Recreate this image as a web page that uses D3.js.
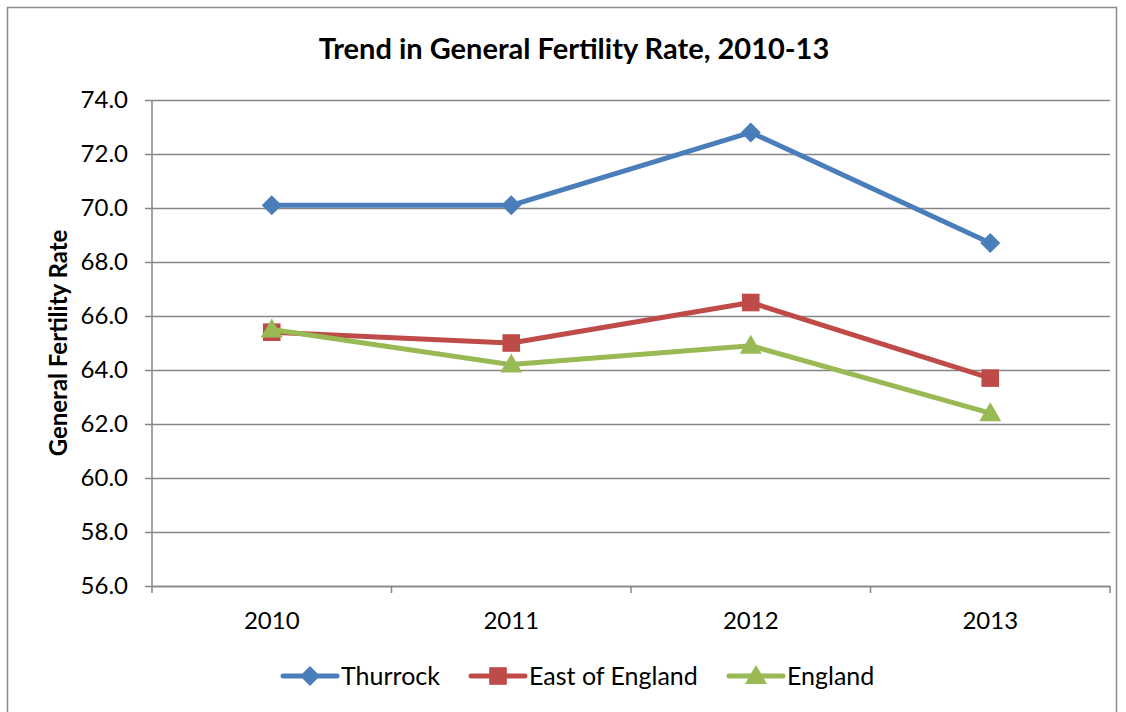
<!DOCTYPE html>
<html><head><meta charset="utf-8">
<script src="https://cdn.jsdelivr.net/npm/d3@7"></script>
<style>body{margin:0;background:#fff;}svg{display:block;font-family:Lato,"Open Sans",sans-serif;}</style>
</head><body>
<svg id="c" width="1126" height="712"></svg>
<script>
const categories = ["2010","2011","2012","2013"];
const seriesNames = ["Thurrock","East of England","England"];
const thurrock = [70.1, 70.1, 72.8, 68.7];
const eastOfEngland = [65.4, 65.0, 66.5, 63.7];
const england = [65.5, 64.2, 64.9, 62.4];
const yTicks = [56,58,60,62,64,66,68,70,72,74];
const colors = ["#4a7ebb","#be4b48","#98b954"];

const svg = d3.select("#c");
svg.append("rect").attr("x",7.5).attr("y",7.5).attr("width",1109).attr("height",720)
  .attr("fill","#fff").attr("stroke","#8c8c8c").attr("stroke-width",1.5);

const L=152, R=1110, T=100, B=586;
const x = d3.scaleBand().domain(categories).range([L,R]);
const y = d3.scaleLinear().domain([56,74]).range([B,T]);

svg.append("text").attr("x",574).attr("y",59).attr("text-anchor","middle")
  .attr("font-weight","bold").attr("font-size",29).text("Trend in General Fertility Rate, 2010-13");

const gy = svg.append("g").attr("transform",`translate(${L},0)`)
  .call(d3.axisLeft(y).tickValues(yTicks).tickFormat(d3.format(".1f")).tickSize(-(R-L)).tickPadding(24));
gy.select(".domain").remove();
gy.selectAll("line").attr("stroke","#868686").attr("stroke-width",1.5);
gy.selectAll(".tick line").attr("x1",-7);
gy.selectAll("text").attr("font-size",24).attr("fill","#000").attr("font-family","Lato,'Open Sans',sans-serif");
svg.append("line").attr("x1",L).attr("x2",L).attr("y1",T).attr("y2",B).attr("stroke","#868686").attr("stroke-width",1.5);

const gx = svg.append("g").attr("transform",`translate(0,${B})`)
  .call(d3.axisBottom(x).tickSize(0).tickPadding(26));
gx.select(".domain").attr("stroke","#868686").attr("stroke-width",1.5);
gx.selectAll("text").attr("font-size",24).attr("fill","#000").attr("font-family","Lato,'Open Sans',sans-serif");
const edges = categories.map(c=>x(c)).concat([R]);
svg.selectAll(".xt").data(edges).enter().append("line")
  .attr("x1",d=>d).attr("x2",d=>d).attr("y1",B).attr("y2",B+7).attr("stroke","#868686").attr("stroke-width",1.5);

svg.append("text").attr("transform","translate(67,343) rotate(-90)").attr("text-anchor","middle")
  .attr("font-weight","bold").attr("font-size",24).text("General Fertility Rate");

const data = [thurrock, eastOfEngland, england];
const cx = c => x(c) + x.bandwidth()/2;
const line = d3.line().x((d,i)=>cx(categories[i])).y(d=>y(d));
function marker(sel,k){
  if(k===0) sel.append("path").attr("d",d3.symbol().type(d3.symbolSquare).size(200)()).attr("transform","rotate(45)").attr("fill",colors[k]);
  else if(k===1) sel.append("path").attr("d",d3.symbol().type(d3.symbolSquare).size(310)()).attr("fill",colors[k]);
  else sel.append("path").attr("d","M0,-11L11,8L-11,8Z").attr("fill",colors[k]);
}
data.forEach((vals,k)=>{
  svg.append("path").attr("d",line(vals)).attr("fill","none").attr("stroke",colors[k])
    .attr("stroke-width",5).attr("stroke-linejoin","round").attr("stroke-linecap","round");
  vals.forEach((d,i)=>{
    const g = svg.append("g").attr("transform",`translate(${cx(categories[i])},${y(d)})`);
    marker(g,k);
  });
});

const legX = [283, 471, 729];
seriesNames.forEach((n,k)=>{
  const g = svg.append("g").attr("transform",`translate(${legX[k]},676)`);
  g.append("line").attr("x1",0).attr("x2",54).attr("stroke",colors[k]).attr("stroke-width",5).attr("stroke-linecap","round");
  const m = g.append("g").attr("transform","translate(27,0)");
  marker(m,k);
  g.append("text").attr("x",58).attr("y",9).attr("font-size",25).text(n);
});
</script>
</body></html>
